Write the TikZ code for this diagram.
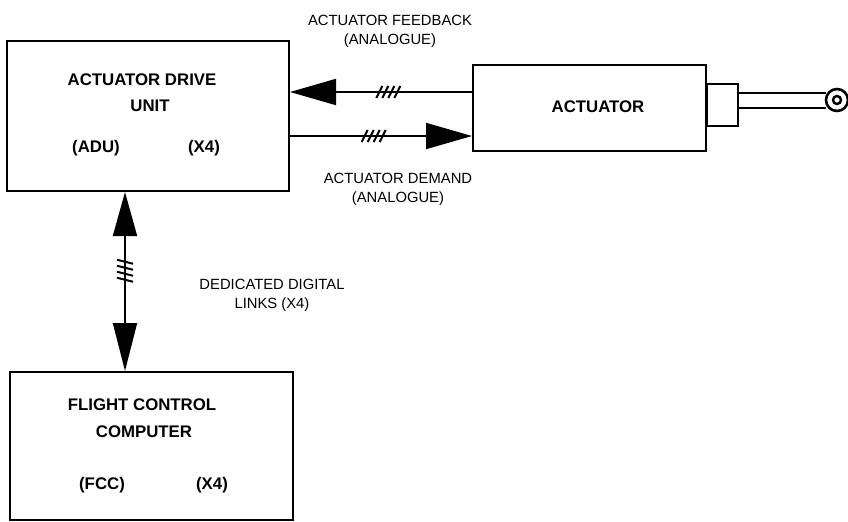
\documentclass[tikz,border=0pt]{standalone}
\usepackage{fontspec}
\setmainfont{Liberation Sans}
\usepackage{tikz}
\usetikzlibrary{arrows.meta,calc}

\tikzset{
  unitbox/.style={draw, line width=1pt, inner sep=0pt},
  boxtext/.style={font=\fontsize{8.4}{10}\selectfont\bfseries},
  sigtext/.style={font=\fontsize{7.4}{9.5}\selectfont, align=center},
  sig/.style={line width=0.9pt},
  bigtip/.style={-{Triangle[length=23pt,width=13pt]}},
  bothtip/.style={{Triangle[length=22pt,width=12pt]}-{Triangle[length=24pt,width=12pt]}},
}

% four slashes across a bus line
\newcommand{\hhash}[1]{\foreach \hh in {-1.5,-0.5,0.5,1.5}
  \draw[line width=1pt] ($(#1)+(\hh*6-3,6)$) -- ($(#1)+(\hh*6+3,-6)$);}
\newcommand{\vhash}[1]{\foreach \hh in {-1.5,-0.5,0.5,1.5}
  \draw[line width=1pt] ($(#1)+(-8,\hh*6-2)$) -- ($(#1)+(8,\hh*6+2)$);}

\begin{document}
\begin{tikzpicture}[x=0.5pt,y=-0.5pt]
\useasboundingbox (0,0) rectangle (848,521);

% Boxes
\node[unitbox, minimum width=141pt, minimum height=75pt] (adu) at (148,116) {};
\node[unitbox, minimum width=116.5pt, minimum height=43pt] (act) at (589.5,108) {};
\node[unitbox, minimum width=141.5pt, minimum height=74pt] (fcc) at (151.5,446) {};

% Box texts
\node[boxtext] at (142,80) {ACTUATOR DRIVE};
\node[boxtext] at (150,106) {UNIT};
\node[boxtext] at (96,148) {(ADU)};
\node[boxtext] at (204,148) {(X4)};
\node[boxtext] at (598,107) {ACTUATOR};
\node[boxtext] at (142,405) {FLIGHT CONTROL};
\node[boxtext] at (144,432) {COMPUTER};
\node[boxtext] at (102,485) {(FCC)};
\node[boxtext] at (212,485) {(X4)};

% Actuator rod + eye end
\draw[line width=1pt] (act.east |- 0,84) rectangle (738,126);
\draw[line width=1pt] (738,93) -- (826,93);
\draw[line width=1pt] (738,108) -- (826,108);
\draw[line width=1.3pt, fill=white] (837,100) circle[radius=5.5pt];
\draw[line width=1.2pt] (837,100) circle[radius=2pt];

% Feedback + demand lines
\coordinate (fbR) at ([yshift=8pt]act.west);
\coordinate (dmL) at ([yshift=-10pt]adu.east);
\draw[sig, bigtip] (fbR) -- coordinate[pos=0.46] (fbH) (fbR -| adu.east);
\draw[sig, bigtip] (dmL) -- coordinate[pos=0.46] (dmH) (dmL -| act.west);
\hhash{fbH}
\hhash{dmH}

% Digital links
\coordinate (lkT) at ([xshift=-11.5pt]adu.south);
\draw[sig, bothtip] (lkT) -- coordinate[pos=0.44] (lkH) (lkT |- fcc.north);
\vhash{lkH}

% Line descriptions
\node[sigtext] at (390,31) {ACTUATOR FEEDBACK\\(ANALOGUE)};
\node[sigtext] at (398,189) {ACTUATOR DEMAND\\(ANALOGUE)};
\node[sigtext] at (272,295) {DEDICATED DIGITAL\\LINKS (X4)};
\end{tikzpicture}
\end{document}
